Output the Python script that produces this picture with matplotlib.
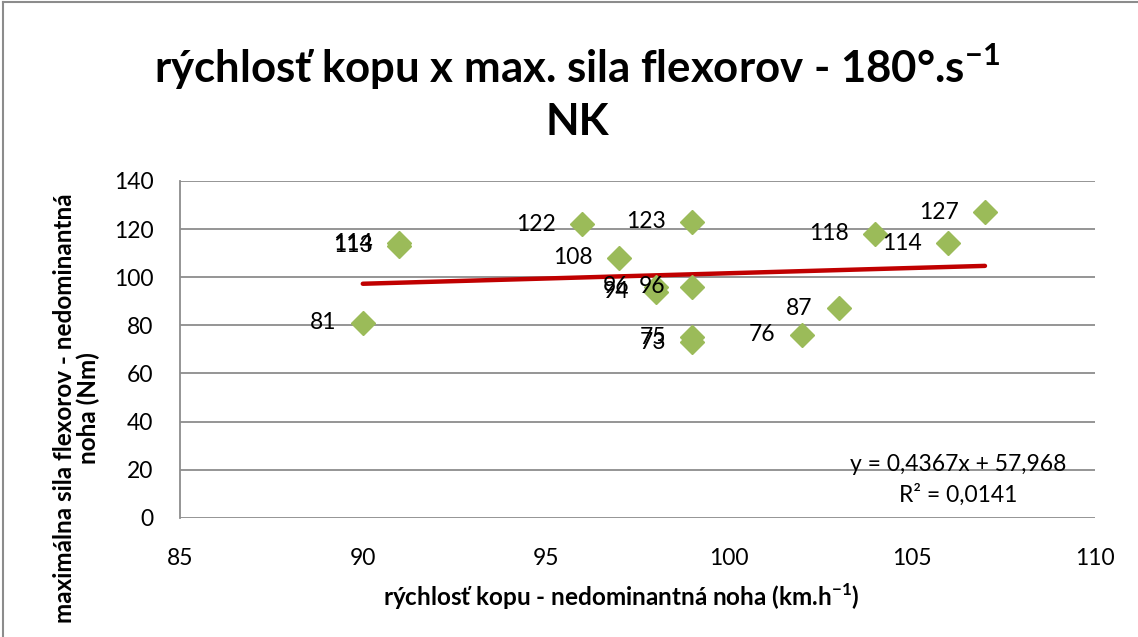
import matplotlib.pyplot as plt
from matplotlib.lines import Line2D

plt.rcParams['font.family'] = ['Lato', 'DejaVu Sans']
plt.rcParams['mathtext.fontset'] = 'custom'
plt.rcParams['mathtext.rm'] = 'Lato'
plt.rcParams['mathtext.bf'] = 'Lato:bold'

speed = [90, 91, 91, 96, 97, 98, 98, 99, 99, 99, 99, 102, 103, 104, 106, 107]
force = [81, 113, 114, 122, 108, 96, 94, 96, 123, 75, 73, 76, 87, 118, 114, 127]
slope = 0.4367
intercept = 57.968
r2_text = 'R² = 0,0141'
eq_text = 'y = 0,4367x + 57,968'

fig = plt.figure(figsize=(11.38, 6.37), dpi=100)
ax = fig.add_axes([0.158, 0.187, 0.804, 0.529])

ax.plot(speed, force, linestyle='none', marker='D', markersize=12,
        color='#9BBB59', zorder=3)
for x, y in zip(speed, force):
    ax.annotate(str(y), (x, y), xytext=(-19, 0), textcoords='offset points',
                ha='right', va='center', fontsize=16.5, color='black', zorder=4)

xs = [min(speed), max(speed)]
ax.plot(xs, [slope * v + intercept for v in xs], color='#C00000',
        linewidth=3.2, solid_capstyle='round', zorder=2)

ax.set_xlim(85, 110)
ax.set_ylim(0, 140)
ax.set_xticks(range(85, 111, 5))
ax.set_yticks(range(0, 141, 20))
ax.grid(axis='y', color='#8C8C8C', linewidth=1.3)
ax.set_axisbelow(True)
for side in ['top', 'right', 'bottom']:
    ax.spines[side].set_visible(False)
ax.spines['left'].set_color('#8C8C8C')
ax.spines['left'].set_linewidth(1.3)
ax.tick_params(length=0, labelsize=16.5)
ax.tick_params(axis='y', pad=19)
ax.tick_params(axis='x', pad=22)

ax.text(0.851, 0.113, eq_text + '\n' + r2_text, transform=ax.transAxes,
        ha='center', va='center', fontsize=16.5, linespacing=1.5)

ax.set_xlabel(r'rýchlosť kopu - nedominantná noha (km.h$^{\mathbf{-1}}$)',
              fontsize=17.5, fontweight='bold')
ax.xaxis.set_label_coords(0.483, -0.19)
ax.set_ylabel('maximálna sila flexorov - nedominantná\nnoha (Nm)',
              fontsize=17.5, fontweight='bold', linespacing=1.05)
ax.yaxis.set_label_coords(-0.087, 0.326)

fig.text(0.507, 0.895, r'rýchlosť kopu x max. sila flexorov - 180°.s$^{\mathbf{-1}}$',
         ha='center', va='center', fontsize=31.5, fontweight='bold')
fig.text(0.507, 0.808, 'NK', ha='center', va='center', fontsize=31.5, fontweight='bold')

fig.add_artist(Line2D([0.003, 0.003], [0, 0.997], transform=fig.transFigure,
                      color='#8C8C8C', linewidth=1.5))
fig.add_artist(Line2D([0.003, 1.0], [0.997, 0.997], transform=fig.transFigure,
                      color='#8C8C8C', linewidth=1.5))

fig.savefig('out.png', dpi=100)
plt.close(fig)
